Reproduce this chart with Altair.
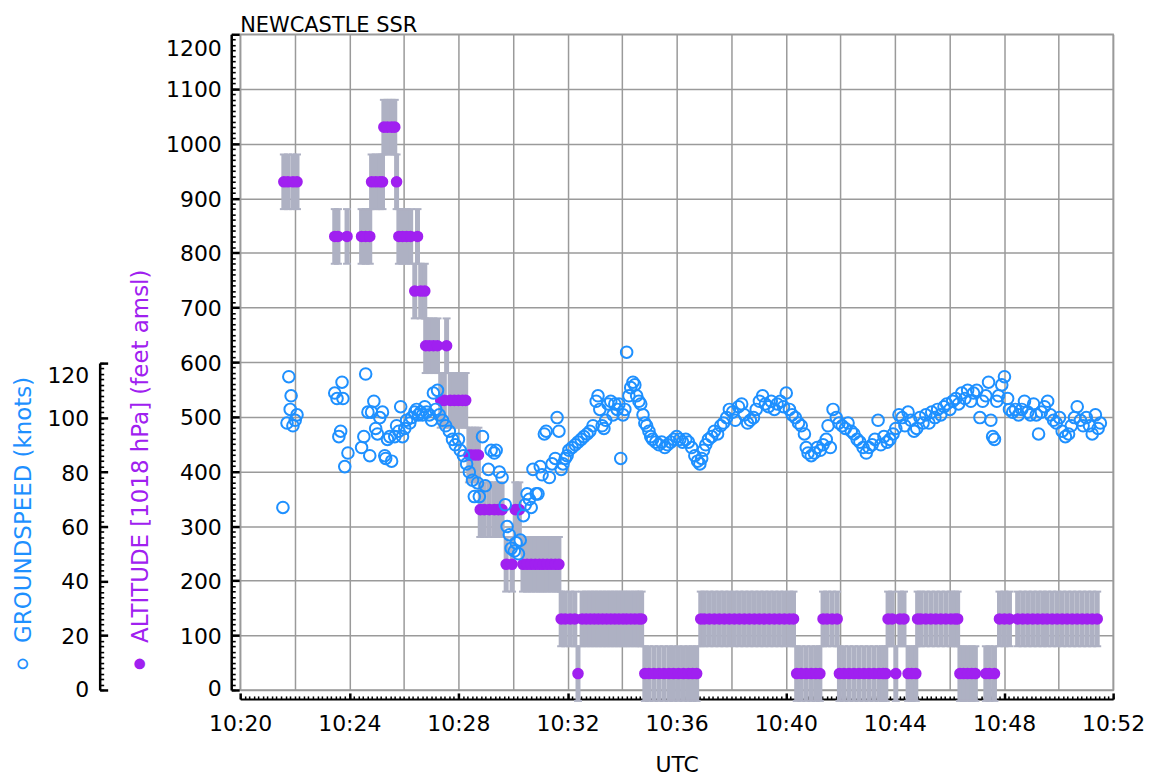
import altair as alt
import pandas as pd

# ---------------- data (time = seconds after 10:20:00 UTC) ----------------
# Mode C altitude, feet amsl (1018 hPa), reported in 100 ft steps (+/-50 ft band)
alt_points = [
    (96, 930), (105, 930), (116, 930), (125, 930),
    (208, 830), (215, 830), (235, 830),
    (267, 830), (276, 830), (285, 830),
    (289, 930), (298, 930), (307, 930), (313, 930),
    (316, 1030), (324, 1030), (333, 1030), (340, 1030),
    (344, 930),
    (349, 830), (357, 830), (366, 830), (375, 830),
    (384, 730), (390, 830), (397, 730), (406, 730),
    (408, 630), (416, 630), (425, 630), (434, 630),
    (441, 530), (449, 530), (454, 630), (462, 530), (471, 530), (480, 530), (489, 530), (496, 530),
    (503, 430), (509, 430), (517, 430), (524, 430),
    (528, 330), (537, 330), (548, 330), (559, 330), (568, 330), (576, 330),
    (585, 230), (598, 230),
    (605, 330), (614, 330),
    (622, 230), (631, 230), (640, 230), (649, 230), (658, 230), (666, 230),
    (675, 230), (684, 230), (693, 230), (701, 230),
    (706, 130), (715, 130), (726, 130), (736, 130),
    (743, 30),
    (752, 130), (761, 130), (770, 130), (779, 130), (788, 130), (797, 130), (806, 130),
    (815, 130), (824, 130), (833, 130), (842, 130), (850, 130), (859, 130), (868, 130),
    (877, 130), (883, 130),
    (890, 30), (899, 30), (910, 30), (921, 30), (932, 30), (943, 30), (953, 30),
    (964, 30), (975, 30), (986, 30), (995, 30), (1004, 30),
    (1013, 130), (1021, 130), (1032, 130), (1043, 130), (1054, 130), (1065, 130),
    (1076, 130), (1087, 130), (1098, 130), (1109, 130), (1120, 130), (1131, 130),
    (1142, 130), (1153, 130), (1164, 130), (1175, 130), (1186, 130), (1197, 130),
    (1208, 130), (1217, 130),
    (1224, 30), (1234, 30), (1245, 30), (1256, 30), (1266, 30), (1275, 30),
    (1282, 130), (1291, 130), (1302, 130), (1313, 130),
    (1318, 30), (1328, 30), (1339, 30), (1350, 30), (1361, 30), (1372, 30), (1383, 30),
    (1394, 30), (1405, 30), (1414, 30), (1420, 30),
    (1425, 130), (1434, 130),
    (1442, 30),
    (1451, 130), (1460, 130),
    (1469, 30), (1477, 30), (1486, 30),
    (1490, 130), (1497, 130), (1508, 130), (1519, 130), (1530, 130), (1541, 130),
    (1552, 130), (1563, 130), (1572, 130), (1578, 130),
    (1583, 30), (1591, 30), (1600, 30), (1609, 30), (1617, 30),
    (1640, 30), (1648, 30), (1659, 30),
    (1670, 130), (1681, 130), (1692, 130),
    (1710, 130), (1721, 130), (1732, 130), (1743, 130), (1754, 130), (1765, 130),
    (1775, 130), (1786, 130), (1797, 130), (1808, 130), (1819, 130), (1830, 130),
    (1841, 130), (1852, 130), (1863, 130), (1874, 130), (1885, 130),
]

# Groundspeed, knots
gs_points = [
    (94, 67), (103, 98), (107, 115), (110, 103), (112, 108), (116, 97), (121, 99), (125, 101),
    (208, 109), (213, 107), (217, 93), (221, 95), (224, 113), (226, 107), (230, 82), (237, 87),
    (267, 89), (272, 93), (276, 116), (281, 102), (285, 86), (289, 102), (294, 106), (298, 96),
    (302, 94), (307, 100), (313, 102),
    (318, 86), (320, 85), (324, 92), (329, 93), (333, 84), (340, 93), (344, 97), (349, 95),
    (353, 104), (357, 93), (362, 96), (366, 99), (373, 98), (377, 100), (384, 102), (388, 103),
    (392, 101), (397, 102), (401, 101), (406, 104), (410, 102), (416, 101), (421, 99), (425, 109),
    (430, 103), (434, 110), (438, 101), (445, 99), (452, 97), (460, 95), (467, 92), (473, 90),
    (480, 92), (484, 88), (491, 86), (498, 83), (504, 80), (511, 77), (515, 71), (522, 76),
    (526, 71), (533, 93), (539, 75), (546, 81), (552, 88), (559, 87), (563, 88), (570, 80),
    (576, 78), (583, 68), (587, 60), (592, 57), (596, 52), (603, 51), (607, 54), (612, 50),
    (616, 55), (623, 64), (627, 68), (631, 72), (636, 70), (640, 67), (644, 81), (651, 72),
    (655, 72), (660, 82), (664, 79), (669, 94), (673, 95), (680, 78), (686, 83), (693, 85),
    (697, 100), (701, 95), (706, 81), (710, 83), (715, 85), (719, 86), (723, 88), (730, 89),
    (737, 90), (743, 91), (750, 92), (756, 93), (763, 94), (769, 95), (776, 97), (783, 106),
    (787, 108), (791, 103), (796, 97), (800, 96), (804, 99), (809, 105), (815, 106), (820, 101),
    (824, 105), (829, 103), (833, 105), (837, 85), (842, 101), (846, 103), (850, 124), (855, 108),
    (859, 111), (864, 113), (868, 112), (872, 108), (877, 106), (881, 105), (886, 101), (890, 98),
    (894, 97), (899, 95), (903, 93), (907, 92), (914, 91), (921, 90), (927, 91), (934, 89),
    (940, 90), (947, 91), (954, 92), (960, 93), (967, 92), (973, 91), (980, 92), (986, 91),
    (993, 89), (1000, 86), (1006, 84), (1011, 83), (1015, 85), (1019, 88), (1024, 90), (1030, 92),
    (1037, 93), (1043, 95), (1050, 94), (1057, 97), (1063, 98), (1070, 100), (1076, 103),
    (1083, 102), (1089, 99), (1096, 104), (1103, 105), (1109, 101), (1116, 98), (1122, 99),
    (1129, 100), (1135, 103), (1142, 106), (1149, 108), (1155, 105), (1162, 104), (1168, 106),
    (1175, 103), (1181, 105), (1188, 106), (1195, 104), (1201, 109), (1208, 103), (1214, 101),
    (1221, 100), (1228, 98), (1234, 97), (1241, 94), (1245, 89), (1249, 87), (1256, 86),
    (1263, 87), (1269, 89), (1276, 88), (1282, 90), (1289, 92), (1293, 97), (1298, 89),
    (1304, 103), (1311, 100), (1317, 98), (1324, 97), (1331, 96), (1337, 98), (1344, 95),
    (1350, 94), (1357, 92), (1363, 91), (1370, 89), (1377, 87), (1383, 89), (1390, 90),
    (1396, 92), (1403, 99), (1409, 90), (1416, 93), (1423, 91), (1429, 92), (1436, 94),
    (1442, 96), (1449, 101), (1456, 100), (1462, 97), (1469, 102), (1475, 99), (1482, 95),
    (1488, 96), (1495, 100), (1502, 98), (1508, 101), (1515, 98), (1521, 102), (1528, 100),
    (1534, 103), (1541, 101), (1548, 104), (1554, 105), (1561, 103), (1567, 106), (1574, 107),
    (1580, 105), (1587, 109), (1594, 107), (1600, 110), (1607, 106), (1613, 109), (1620, 110),
    (1627, 100), (1633, 106), (1640, 108), (1646, 113), (1651, 99), (1655, 93), (1659, 92),
    (1664, 106), (1668, 108), (1675, 112), (1681, 115), (1688, 107), (1692, 103), (1699, 102),
    (1705, 103), (1712, 101), (1719, 103), (1725, 106), (1732, 102), (1738, 101), (1745, 105),
    (1751, 101), (1756, 94), (1762, 102), (1769, 104), (1776, 106), (1782, 101), (1789, 99),
    (1795, 98), (1802, 100), (1808, 95), (1815, 93), (1822, 94), (1828, 97), (1835, 100),
    (1841, 104), (1848, 99), (1854, 97), (1861, 100), (1868, 97), (1874, 94), (1881, 101),
    (1887, 96), (1892, 98),
]

alt_band = 50  # Mode C reporting resolution: +/- 50 ft

x_major_values = [20, 24, 28, 32, 36, 40, 44, 48, 52]   # minutes after 10:00
x_grid_values = list(range(20, 53, 2))
alt_major_values = list(range(0, 1201, 100))
alt_minor_values = list(range(0, 1201, 10))
gs_major_values = list(range(0, 121, 20))
gs_minor_values = list(range(0, 121, 2))

# ---------------- tables ----------------
alt_df = pd.DataFrame(alt_points, columns=["sec", "alt"])
alt_df["t"] = 20 + alt_df["sec"] / 60.0
alt_df["lo"] = alt_df["alt"] - alt_band
alt_df["hi"] = alt_df["alt"] + alt_band

gs_df = pd.DataFrame(gs_points, columns=["sec", "gs"])
gs_df["t"] = 20 + gs_df["sec"] / 60.0

# ---------------- style ----------------
FONT = "DejaVu Sans"
PURPLE = "#A020F0"
BLUE = "#1E90FF"
BAR = "#AEB1C3"
GRID = "#9A9A9A"
W, H = 876, 658

xs = alt.Scale(domain=[20, 52], nice=False, zero=False)
ys_alt = alt.Scale(domain=[0, 1200], nice=False, zero=True)
ys_gs = alt.Scale(domain=[0, 120], nice=False, zero=True, range=[H, H - 328])

x_main = alt.Axis(orient="bottom", offset=9, values=x_major_values,
                  labelExpr="'10:' + format(datum.value, '02d')", labelFlush=False,
                  labelFont=FONT, labelFontSize=22, labelColor="black", labelPadding=15,
                  ticks=False, domain=True, domainColor="black", domainWidth=2, grid=False,
                  title="UTC", titleFont=FONT, titleFontSize=22, titleFontWeight="normal",
                  titleColor="black", titlePadding=20)
x_grid = alt.Axis(orient="bottom", values=x_grid_values, grid=True, gridColor=GRID, gridWidth=1.5,
                  ticks=False, labels=False, domain=False, title=None)
x_major = alt.Axis(orient="bottom", offset=3, values=x_major_values, ticks=True, tickSize=6,
                   tickWidth=2.5, tickColor="black", labels=False, domain=False, grid=False, title=None)
x_minor = alt.Axis(orient="bottom", offset=6, values=[20 + i / 6 for i in range(193)], ticks=True,
                   tickSize=3, tickWidth=1.5, tickColor="black", labels=False, domain=False,
                   grid=False, title=None)

y_alt_main = alt.Axis(orient="left", offset=9, values=alt_major_values, format="d", grid=True,
                      gridColor=GRID, gridWidth=1.5, ticks=False, domain=True, domainColor="black",
                      domainWidth=2.5, labelFont=FONT, labelFontSize=22, labelColor="black",
                      labelPadding=10,
                      labelOffset={"condition": [{"test": "datum.value == 1200", "value": 14},
                                                 {"test": "datum.value == 0", "value": -1}],
                                   "value": 1},
                      title="\u26AB\u2002ALTITUDE [1018 hPa] (feet amsl)", titleFont=FONT,
                      titleFontSize=23, titleFontWeight="normal", titleColor=PURPLE,
                      titleAngle=270, titleAlign="left", titleBaseline="middle",
                      titleX=-91, titleY=641)
y_alt_major = alt.Axis(orient="left", offset=1, values=alt_major_values, ticks=True, tickSize=8,
                       tickWidth=2.5, tickColor="black", labels=False, domain=False, grid=False,
                       title=None)
y_alt_minor = alt.Axis(orient="left", offset=5, values=alt_minor_values, ticks=True, tickSize=4,
                       tickWidth=1.6, tickColor="black", labels=False, domain=False, grid=False,
                       title=None)

y_gs_main = alt.Axis(orient="left", offset=141, values=gs_major_values, format="d", grid=False,
                     ticks=False, domain=True, domainColor="black", domainWidth=2.5,
                     labelFont=FONT, labelFontSize=22, labelColor="black", labelPadding=11,
                     labelOffset={"condition": [{"test": "datum.value == 120", "value": 12},
                                                {"test": "datum.value == 0", "value": 0}],
                                  "value": 1},
                     title="\u26AA\u2002GROUNDSPEED (knots)", titleFont=FONT, titleFontSize=23,
                     titleFontWeight="normal", titleColor=BLUE, titleAngle=270, titleAlign="left",
                     titleBaseline="middle", titleX=-76, titleY=641)
y_gs_major = alt.Axis(orient="left", offset=133, values=gs_major_values, ticks=True, tickSize=8,
                      tickWidth=2.5, tickColor="black", labels=False, domain=False, grid=False,
                      title=None)
y_gs_minor = alt.Axis(orient="left", offset=137, values=gs_minor_values, ticks=True, tickSize=4,
                      tickWidth=1.6, tickColor="black", labels=False, domain=False, grid=False,
                      title=None)

base_alt = alt.Chart(alt_df)
base_gs = alt.Chart(gs_df)

bars = base_alt.mark_rule(color=BAR, strokeWidth=5).encode(
    x=alt.X("t:Q", scale=xs, axis=x_main),
    y=alt.Y("lo:Q", scale=ys_alt, axis=y_alt_main),
    y2="hi:Q",
)
caps_lo = base_alt.mark_tick(orient="horizontal", color=BAR, size=8, thickness=2, opacity=1).encode(
    x=alt.X("t:Q", scale=xs, axis=x_grid),
    y=alt.Y("lo:Q", scale=ys_alt, axis=y_alt_major),
)
caps_hi = base_alt.mark_tick(orient="horizontal", color=BAR, size=8, thickness=2, opacity=1).encode(
    x=alt.X("t:Q", scale=xs, axis=x_major),
    y=alt.Y("hi:Q", scale=ys_alt, axis=y_alt_minor),
)
alt_dots = base_alt.mark_circle(color=PURPLE, size=135, opacity=1).encode(
    x=alt.X("t:Q", scale=xs, axis=x_minor),
    y=alt.Y("alt:Q", scale=ys_alt, axis=None),
)
gs_ticks_major = base_gs.mark_point(opacity=0).encode(
    x=alt.X("t:Q", scale=xs, axis=None),
    y=alt.Y("gs:Q", scale=ys_gs, axis=y_gs_major),
)
gs_ticks_minor = base_gs.mark_point(opacity=0).encode(
    x=alt.X("t:Q", scale=xs, axis=None),
    y=alt.Y("gs:Q", scale=ys_gs, axis=y_gs_minor),
)
gs_dots = base_gs.mark_point(shape="circle", filled=False, color=BLUE, size=135, strokeWidth=2,
                             opacity=1).encode(
    x=alt.X("t:Q", scale=xs, axis=None),
    y=alt.Y("gs:Q", scale=ys_gs, axis=y_gs_main),
)

chart = (
    alt.layer(bars, caps_lo, caps_hi, alt_dots, gs_ticks_major, gs_ticks_minor, gs_dots)
    .resolve_scale(x="shared", y="independent")
    .resolve_axis(x="independent", y="independent")
    .properties(
        width=W, height=H,
        title=alt.TitleParams("NEWCASTLE SSR", anchor="start", frame="group", font=FONT,
                              fontSize=21, fontWeight="normal", color="black", offset=-3),
    )
    .configure_view(stroke=GRID, strokeWidth=1.5)
)

chart.save("out.html", embed_options={"renderer": "svg", "actions": False})
